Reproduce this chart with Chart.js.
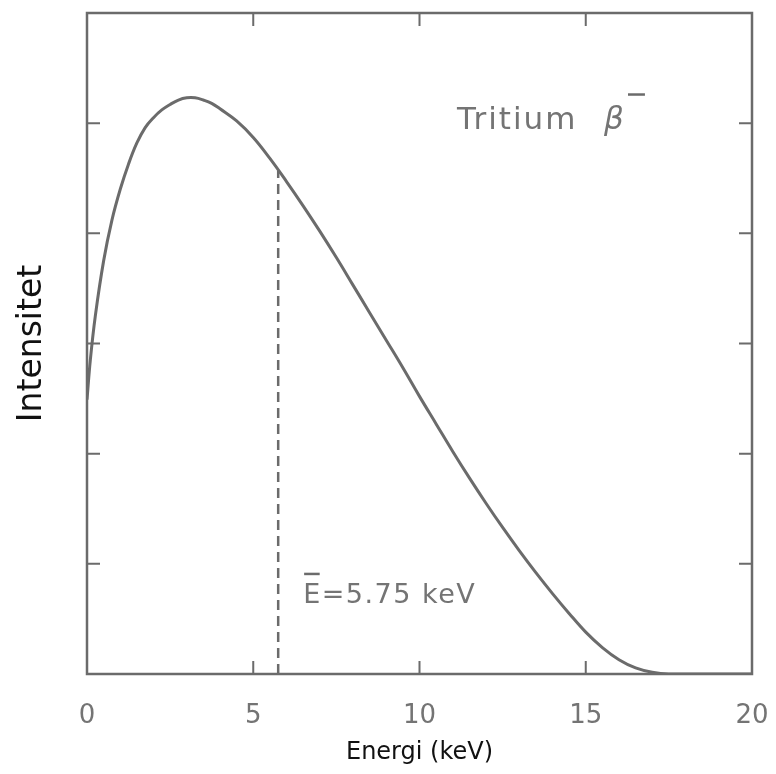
<!DOCTYPE html>
<html><head><meta charset="utf-8">
<script src="https://cdn.jsdelivr.net/npm/chart.js@4/dist/chart.umd.min.js"></script>
<style>html,body{margin:0;padding:0;background:#fff}#wrap{width:776px;height:774px;position:relative}</style>
</head><body><div id="wrap"><canvas id="c"></canvas></div>
<script>
// Tritium beta spectrum
const energy    = [0, 0.1, 0.25, 0.5, 0.75, 1.0, 1.25, 1.5, 1.75, 2.0, 2.25, 2.5, 2.75, 3.0, 3.25, 3.5, 3.75, 4.0, 4.5, 5.0, 5.5, 6.0, 6.5, 7.0, 7.5, 8.0, 8.5, 9.0, 9.5, 10.0, 10.5, 11.0, 11.5, 12.0, 12.5, 13.0, 13.5, 14.0, 14.5, 15.0, 15.5, 16.0, 16.5, 17.0, 17.5, 20];
const intensity = [2.49, 2.85, 3.25, 3.75, 4.12, 4.40, 4.63, 4.82, 4.96, 5.05, 5.12, 5.17, 5.21, 5.23, 5.23, 5.21, 5.18, 5.13, 5.02, 4.87, 4.68, 4.47, 4.25, 4.02, 3.78, 3.53, 3.28, 3.03, 2.78, 2.52, 2.27, 2.02, 1.78, 1.55, 1.33, 1.12, 0.92, 0.73, 0.55, 0.38, 0.24, 0.13, 0.055, 0.015, 0.0, 0.0];
const meanEnergy = [5.75];
const meanIntensity = [4.57];
const xTickValues = [0, 5, 10, 15, 20];
const yTickValues = [0, 1, 2, 3, 4, 5, 6];
const xTitle = 'Energi (keV)';
const yTitle = 'Intensitet';
const nuclideLabel = 'Tritium';
const particleLabel = 'β';
const meanLabel = 'E=5.75 keV';

const GRAY = '#6b6b6b';
const TEXT_GRAY = '#747474';

const curve = energy.map((e, i) => ({x: e, y: intensity[i]}));
const meanLine = [{x: meanEnergy[0], y: 0}, {x: meanEnergy[0], y: meanIntensity[0]}];

const framePlugin = {
  id: 'frame',
  afterDatasetsDraw(chart) {
    const {ctx, chartArea: a, scales: {x, y}} = chart;
    ctx.save();
    ctx.strokeStyle = GRAY;
    ctx.lineWidth = 2.5;
    ctx.strokeRect(a.left, a.top, a.right - a.left, a.bottom - a.top);
    const tl = 13;
    ctx.beginPath();
    xTickValues.slice(1, -1).forEach(v => {
      const px = x.getPixelForValue(v);
      ctx.moveTo(px, a.bottom); ctx.lineTo(px, a.bottom - tl);
      ctx.moveTo(px, a.top); ctx.lineTo(px, a.top + tl);
    });
    yTickValues.slice(1, -1).forEach(v => {
      const py = y.getPixelForValue(v);
      ctx.moveTo(a.left, py); ctx.lineTo(a.left + tl, py);
      ctx.moveTo(a.right, py); ctx.lineTo(a.right - tl, py);
    });
    ctx.lineWidth = 2;
    ctx.stroke();

    // Annotations
    ctx.fillStyle = TEXT_GRAY;
    ctx.textBaseline = 'alphabetic';
    ctx.textAlign = 'left';
    ctx.font = '31px "DejaVu Sans"';
    try { ctx.letterSpacing = '2px'; } catch (e) {}
    const tx = x.getPixelForValue(11.13), ty = y.getPixelForValue(4.95);
    ctx.fillText(nuclideLabel, tx, ty);
    ctx.font = 'italic 31px "DejaVu Sans"';
    const bx = x.getPixelForValue(15.55);
    ctx.fillText(particleLabel, bx, ty);
    ctx.lineWidth = 2.5;
    ctx.beginPath();
    ctx.moveTo(x.getPixelForValue(16.27), y.getPixelForValue(5.26));
    ctx.lineTo(x.getPixelForValue(16.78), y.getPixelForValue(5.26));
    ctx.stroke();

    ctx.font = '27px "DejaVu Sans"';
    try { ctx.letterSpacing = '1.5px'; } catch (e) {}
    const mx = x.getPixelForValue(6.5), my = y.getPixelForValue(0.645);
    ctx.fillText(meanLabel, mx, my);
    const ew = ctx.measureText('E').width;
    ctx.lineWidth = 2.5;
    ctx.beginPath();
    ctx.moveTo(mx + 1, my - 29);
    ctx.lineTo(mx + ew - 2, my - 29);
    ctx.stroke();
    ctx.restore();
  }
};

new Chart(document.getElementById('c'), {
  type: 'scatter',
  data: {
    datasets: [
      {data: curve, showLine: true, borderColor: GRAY, borderWidth: 3, pointRadius: 0, tension: 0.4, fill: false},
      {data: meanLine, showLine: true, borderColor: GRAY, borderWidth: 2.5, borderDash: [10, 6], pointRadius: 0, fill: false}
    ]
  },
  options: {
    responsive: true,
    maintainAspectRatio: false,
    animation: false,
    layout: {padding: {top: 13, right: 24, left: 0, bottom: 0}},
    plugins: {legend: {display: false}, tooltip: {enabled: false}},
    scales: {
      x: {
        type: 'linear', min: 0, max: 20,
        afterBuildTicks: s => { s.ticks = xTickValues.map(v => ({value: v})); },
        afterFit: s => { s.height = 100; s.paddingLeft = 0; s.paddingRight = 0; },
        grid: {display: false, drawTicks: false},
        border: {display: false},
        ticks: {color: TEXT_GRAY, font: {family: 'DejaVu Sans', size: 26}, padding: 27, maxRotation: 0, autoSkip: false},
        title: {display: true, text: xTitle, color: '#111', font: {family: 'DejaVu Sans', size: 24}, padding: {top: 0, bottom: 7}}
      },
      y: {
        type: 'linear', min: 0, max: 6,
        afterBuildTicks: s => { s.ticks = yTickValues.map(v => ({value: v})); },
        afterFit: s => { s.width = 87; s.paddingTop = 0; s.paddingBottom = 0; },
        grid: {display: false, drawTicks: false},
        border: {display: false},
        ticks: {display: false},
        title: {display: true, text: yTitle, color: '#111', font: {family: 'DejaVu Sans', size: 33}, padding: {top: 13, bottom: 0}}
      }
    }
  },
  plugins: [framePlugin]
});
</script>
</body></html>
